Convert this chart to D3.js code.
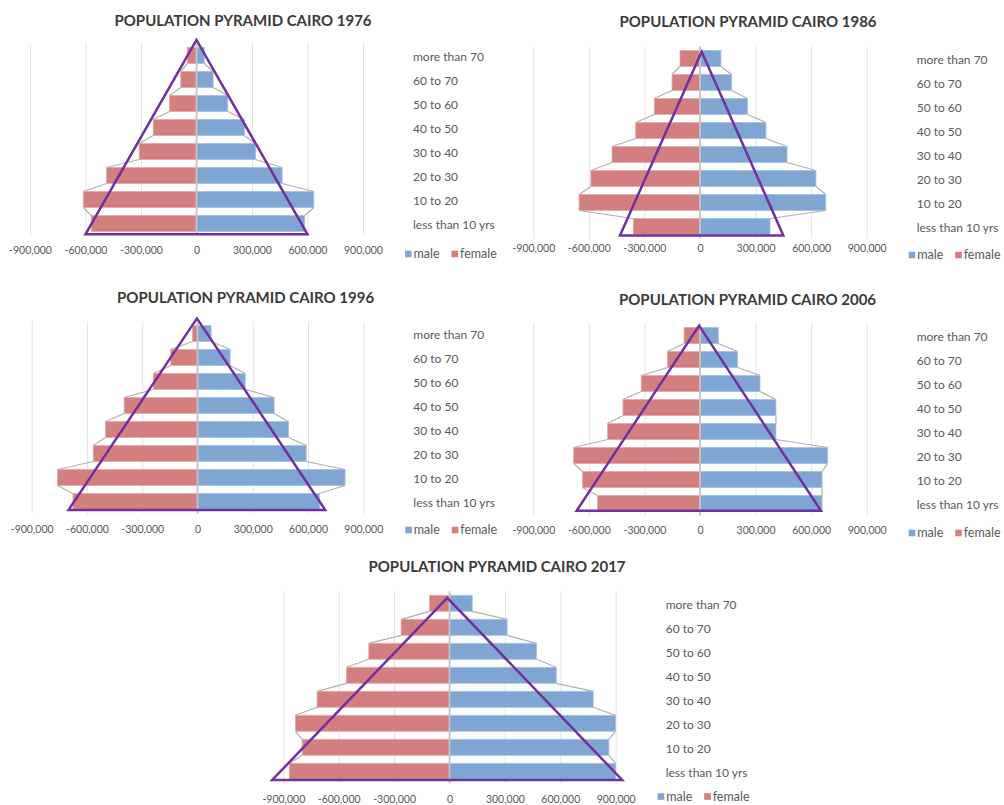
<!DOCTYPE html>
<html>
<head>
<meta charset="utf-8">
<script src="https://cdn.jsdelivr.net/npm/d3@7"></script>
<style>
  html, body { margin: 0; padding: 0; background: #fff; }
  svg { display: block; }
  text { font-family: Lato, "Open Sans", sans-serif; }
</style>
</head>
<body>
<svg id="chart" width="1004" height="805"></svg>
<script>
// Age groups, bottom of the pyramid first
const categories = ["less than 10 yrs", "10 to 20", "20 to 30", "30 to 40",
                    "40 to 50", "50 to 60", "60 to 70", "more than 70"];

// Population by age group and sex, Cairo
const male1976   = [585000, 634000, 463000, 319000, 259000, 169000,  90000,  42000];
const female1976 = [569000, 612000, 486000, 310000, 234000, 146000,  85000,  50000];
const male1986   = [378000, 679000, 626000, 470000, 356000, 256000, 171000, 113000];
const female1986 = [360000, 653000, 589000, 475000, 347000, 247000, 151000, 108000];
const male1996   = [662000, 801000, 590000, 494000, 416000, 259000, 177000,  74000];
const female1996 = [676000, 760000, 566000, 499000, 398000, 240000, 145000,  27000];
const male2006   = [659000, 659000, 689000, 410000, 410000, 324000, 203000,  99000];
const female2006 = [553000, 634000, 682000, 499000, 416000, 317000, 175000,  86000];
const male2017   = [899000, 863000, 899000, 778000, 578000, 471000, 312000, 123000];
const female2017 = [866000, 798000, 834000, 717000, 558000, 437000, 262000, 108000];

// Reference triangles: [population, level] where level 0 = base of the chart, 8 = top
const triangle1976 = [[0, 8.15], [-600000, 0.05], [600000, 0.05]];
const triangle1986 = [[9000, 7.78], [-432000, 0.13], [450000, 0.13]];
const triangle1996 = [[-3000, 8.13], [-700000, 0.15], [693000, 0.15]];
const triangle2006 = [[-5000, 7.91], [-666000, 0.2], [653000, 0.2]];
const triangle2017 = [[-12000, 7.73], [-960000, 0.14], [935000, 0.14]];

const years = [1976, 1986, 1996, 2006, 2017];
const tickValues = [-900000, -600000, -300000, 0, 300000, 600000, 900000];
const seriesNames = ["male", "female"];

const panels = [
  { year: 1976, male: male1976, female: female1976, triangle: triangle1976,
    left: 30, right: 363, top: 43.5, bottom: 235.5, titleX: 243, titleY: 25.5, tickY: 250, legendY: 254 },
  { year: 1986, male: male1986, female: female1986, triangle: triangle1986,
    left: 533.3, right: 866.7, top: 46.5, bottom: 238.5, titleX: 748, titleY: 27, tickY: 248.5, legendY: 255 },
  { year: 1996, male: male1996, female: female1996, triangle: triangle1996,
    left: 31.7, right: 363.3, top: 321.5, bottom: 513.5, titleX: 245.6, titleY: 303, tickY: 529, legendY: 530 },
  { year: 2006, male: male2006, female: female2006, triangle: triangle2006,
    left: 533.3, right: 866.7, top: 323.5, bottom: 515.5, titleX: 747.5, titleY: 305, tickY: 530.7, legendY: 533 },
  { year: 2017, male: male2017, female: female2017, triangle: triangle2017,
    left: 283.3, right: 615.7, top: 591.3, bottom: 783.3, titleX: 497, titleY: 572, tickY: 799, legendY: 796.5 }
];

const colors = { male: "#7fa6d2", female: "#d47f7f" };
const strokes = { male: "#a6c0e0", female: "#e3a8a8" };
const textColor = "#595959";

const locale = d3.formatLocale({ decimal: ".", thousands: ",", grouping: [3], currency: ["", ""], minus: "-" });
const fmt = locale.format(",");

const svg = d3.select("#chart");

panels.forEach(p => {
  const g = svg.append("g");

  const x = d3.scaleLinear().domain([-900000, 900000]).range([p.left, p.right]);
  const y = d3.scaleBand().domain(categories.slice().reverse()).range([p.top, p.bottom]).paddingInner(1 / 3).paddingOuter(1 / 6);
  const level = d3.scaleLinear().domain([0, categories.length]).range([p.bottom, p.top]);

  // Title
  g.append("text")
    .attr("x", p.titleX).attr("y", p.titleY)
    .attr("text-anchor", "middle")
    .attr("font-size", 15).attr("font-weight", 700)
    .attr("fill", "#3a3a3a")
    .text("POPULATION PYRAMID CAIRO " + p.year);

  // Vertical gridlines
  const grid = g.append("g")
    .attr("transform", `translate(0,${p.bottom})`)
    .call(d3.axisBottom(x).tickValues(tickValues).tickSize(-(p.bottom - p.top)).tickFormat(""));
  grid.select(".domain").remove();
  grid.selectAll(".tick line").attr("stroke", "#e4e4e4").attr("stroke-width", 1);

  // Tick labels
  const ax = g.append("g")
    .attr("transform", `translate(0,${p.tickY})`)
    .call(d3.axisBottom(x).tickValues(tickValues).tickSize(0).tickPadding(0).tickFormat(fmt));
  ax.select(".domain").remove();
  ax.selectAll(".tick text")
    .attr("y", 0).attr("dy", "0.35em")
    .attr("font-family", "Lato, 'Open Sans', sans-serif")
    .attr("font-size", 10.5).attr("fill", textColor);

  // Series lines joining the outer ends of neighbouring bars
  const band = y.bandwidth();
  ["male", "female"].forEach(s => {
    const sign = s === "male" ? 1 : -1;
    const vals = p[s];
    for (let i = vals.length - 1; i > 0; i--) {
      const upper = categories[i], lower = categories[i - 1];
      g.append("line")
        .attr("x1", x(sign * vals[i])).attr("y1", y(upper) + band)
        .attr("x2", x(sign * vals[i - 1])).attr("y2", y(lower))
        .attr("stroke", "#b0b0b0").attr("stroke-width", 1.2);
    }
  });

  // Bars
  ["male", "female"].forEach(s => {
    const sign = s === "male" ? 1 : -1;
    g.append("g").selectAll("rect")
      .data(categories.map((c, i) => ({ c, v: sign * p[s][i] })))
      .join("rect")
      .attr("x", d => Math.min(x(0), x(d.v)))
      .attr("y", d => y(d.c))
      .attr("width", d => Math.abs(x(d.v) - x(0)))
      .attr("height", band)
      .attr("fill", colors[s])
      .attr("stroke", strokes[s]).attr("stroke-width", 0.8);
  });

  // Centre axis
  g.append("line")
    .attr("x1", x(0)).attr("x2", x(0))
    .attr("y1", p.top).attr("y2", p.bottom)
    .attr("stroke", "#c4c4c4").attr("stroke-width", 1.8);

  // Category labels on the right
  const cat = g.append("g")
    .attr("transform", `translate(${p.right + 50},0)`)
    .call(d3.axisRight(y).tickSize(0).tickPadding(0));
  cat.select(".domain").remove();
  cat.selectAll(".tick text")
    .attr("font-family", "Lato, 'Open Sans', sans-serif")
    .attr("font-size", 12).attr("fill", textColor)
    .attr("dy", "0.45em");

  // Legend
  const lg = g.append("g").attr("transform", `translate(${p.right + 42},${p.legendY})`);
  const offsets = [0, 46.5];
  seriesNames.forEach((s, i) => {
    lg.append("rect")
      .attr("x", offsets[i]).attr("y", -3.3)
      .attr("width", 6.6).attr("height", 6.6)
      .attr("fill", colors[s]);
    lg.append("text")
      .attr("x", offsets[i] + 8.5).attr("y", 0).attr("dy", "0.35em")
      .attr("font-size", 12.5).attr("fill", textColor)
      .text(s);
  });

  // Reference triangle on top
  g.append("path")
    .attr("d", d3.line().x(d => x(d[0])).y(d => level(d[1])).curve(d3.curveLinearClosed)(p.triangle))
    .attr("fill", "none")
    .attr("stroke", "#7030a0").attr("stroke-width", 2.5)
    .attr("stroke-linejoin", "miter");
});
</script>
</body>
</html>
